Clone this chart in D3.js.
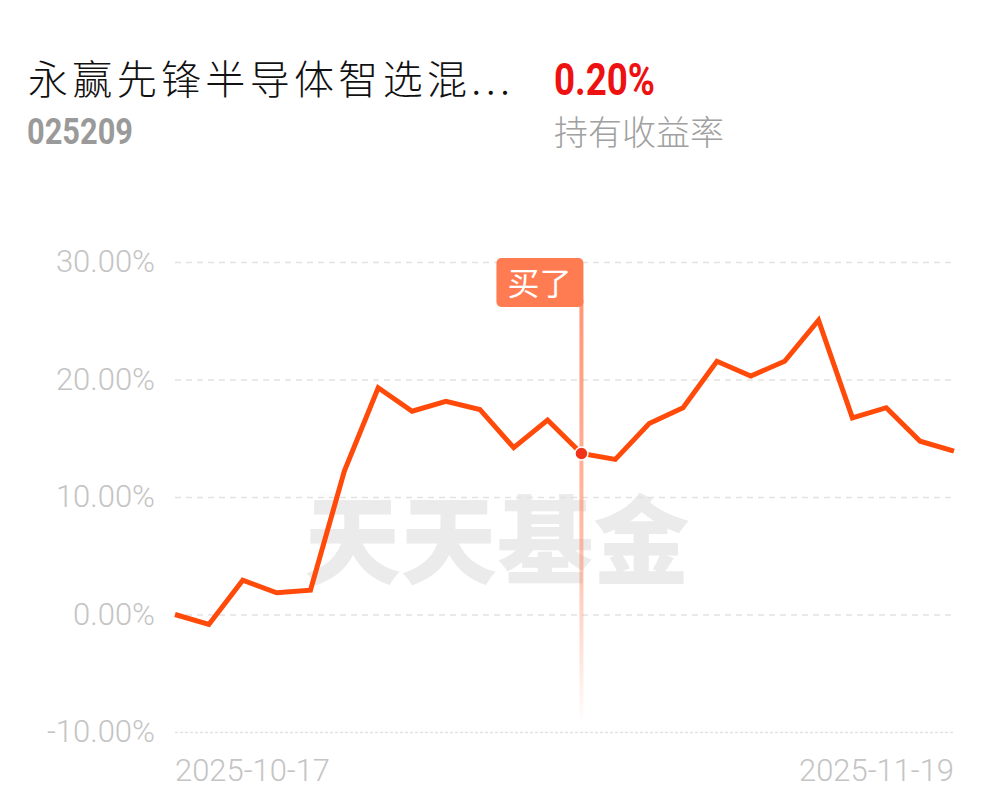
<!DOCTYPE html>
<html>
<head>
<meta charset="utf-8">
<script src="https://cdn.jsdelivr.net/npm/d3@7"></script>
<style>
  body { margin: 0; background: #fff; }
  svg { display: block; font-family: Roboto, "Noto Sans CJK SC", sans-serif; }
</style>
</head>
<body>
<svg width="997" height="802"></svg>
<script>
const fundName = '永赢先锋半导体智选混...';
const fundCode = '025209';
const holdReturn = '0.20%';
const holdLabel = '持有收益率';

const dates = ['2025-10-17', '2025-10-20', '2025-10-21', '2025-10-22', '2025-10-23', '2025-10-24',
    '2025-10-27', '2025-10-28', '2025-10-29', '2025-10-30', '2025-10-31', '2025-11-03',
    '2025-11-04', '2025-11-05', '2025-11-06', '2025-11-07', '2025-11-10', '2025-11-11',
    '2025-11-12', '2025-11-13', '2025-11-14', '2025-11-17', '2025-11-18', '2025-11-19'];
const values = [0.0, -0.85, 2.92, 1.85, 2.07, 12.2, 19.3, 17.3, 18.15, 17.45, 14.2, 16.55,
    13.7, 13.2, 16.25, 17.6, 21.55, 20.3, 21.55, 25.05, 16.74, 17.6, 14.75, 13.9];
const yTicks = [-10, 0, 10, 20, 30];
const xLabels = ['2025-10-17', '2025-11-19'];
const buyDate = '2025-11-04';
const buyText = '买了';

function Start(){
    const svg = d3.select('svg');
    const left = 175, right = 955, top = 262, bottom = 732;

    const x = d3.scalePoint().domain(dates).range([left, 954]);
    const y = d3.scaleLinear().domain([-10, 30]).range([bottom, top]);

    // header
    svg.append('text')
        .attr('x', 28).attr('y', 94)
        .attr('font-family', '"Noto Sans CJK SC", sans-serif')
        .attr('font-size', 40).attr('font-weight', 300)
        .attr('fill', '#111')
        .attr('textLength', 482).attr('lengthAdjust', 'spacing')
        .text(fundName);
    svg.append('text')
        .attr('x', 27).attr('y', 144)
        .attr('font-size', 36).attr('font-weight', 'bold')
        .attr('fill', '#9a9a9a')
        .attr('textLength', 106).attr('lengthAdjust', 'spacingAndGlyphs')
        .text(fundCode);
    svg.append('text')
        .attr('x', 554).attr('y', 95)
        .attr('font-size', 45).attr('font-weight', 'bold')
        .attr('fill', '#ee1111')
        .attr('textLength', 101).attr('lengthAdjust', 'spacingAndGlyphs')
        .text(holdReturn);
    svg.append('text')
        .attr('x', 554).attr('y', 145)
        .attr('font-family', '"Noto Sans CJK SC", sans-serif')
        .attr('font-size', 34).attr('font-weight', 300)
        .attr('fill', '#a0a0a0')
        .text(holdLabel);

    // watermark
    svg.append('text')
        .attr('x', 497).attr('y', 576)
        .attr('text-anchor', 'middle')
        .attr('font-family', '"Noto Sans CJK SC", sans-serif')
        .attr('font-size', 96).attr('font-weight', 900)
        .attr('fill', '#ebebeb')
        .attr('textLength', 385).attr('lengthAdjust', 'spacingAndGlyphs')
        .text('天天基金');

    // grid
    const grid = svg.append('g')
        .attr('transform', `translate(${left},0)`)
        .call(d3.axisRight(y).tickValues(yTicks).tickSize(right - left).tickFormat(''));
    grid.select('.domain').remove();
    grid.selectAll('line')
        .attr('stroke', '#e2e2e2')
        .attr('stroke-width', 1.5)
        .attr('stroke-dasharray', d => d === -10 ? '3,2' : '6,5');

    // y labels
    const yAxis = svg.append('g')
        .attr('transform', `translate(${left},0)`)
        .call(d3.axisLeft(y).tickValues(yTicks).tickSize(0).tickPadding(20)
            .tickFormat(d => d.toFixed(2) + '%'));
    yAxis.select('.domain').remove();
    yAxis.selectAll('text')
        .attr('font-family', 'Roboto, sans-serif')
        .attr('font-size', 31).attr('font-weight', 300)
        .attr('fill', '#c4c4c4');

    // x labels
    svg.selectAll('.xlab')
        .data(xLabels)
        .enter().append('text')
        .attr('class', 'xlab')
        .attr('x', d => x(d))
        .attr('y', 781)
        .attr('text-anchor', (d, i) => i === 0 ? 'start' : 'end')
        .attr('font-size', 31).attr('font-weight', 300)
        .attr('fill', '#c4c4c4')
        .attr('textLength', 155).attr('lengthAdjust', 'spacingAndGlyphs')
        .text(d => d);

    // buy marker line
    const defs = svg.append('defs');
    const grad = defs.append('linearGradient')
        .attr('id', 'buyfade')
        .attr('x1', 0).attr('y1', 0).attr('x2', 0).attr('y2', 1);
    grad.append('stop').attr('offset', '0%').attr('stop-color', '#ff8a63').attr('stop-opacity', 0.9);
    grad.append('stop').attr('offset', '60%').attr('stop-color', '#ff8a63').attr('stop-opacity', 0.55);
    grad.append('stop').attr('offset', '100%').attr('stop-color', '#ff8a63').attr('stop-opacity', 0);

    const bx = x(buyDate);
    svg.append('rect')
        .attr('x', bx - 2).attr('y', 300)
        .attr('width', 4).attr('height', 425)
        .attr('fill', 'url(#buyfade)');

    const g = svg.append('g')
        .attr('transform', `translate(${bx},0)`);
    g.append('rect')
        .attr('x', -85).attr('y', 258)
        .attr('width', 87).attr('height', 49)
        .attr('rx', 5)
        .attr('fill', '#ff7c52');
    g.append('text')
        .attr('x', -42).attr('y', 295)
        .attr('text-anchor', 'middle')
        .attr('font-family', '"Noto Sans CJK SC", sans-serif')
        .attr('font-size', 32)
        .attr('fill', '#fff')
        .text(buyText);

    // line
    const line = d3.line()
        .x((d, i) => x(dates[i]))
        .y(d => y(d));
    svg.append('path')
        .attr('d', line(values))
        .attr('fill', 'none')
        .attr('stroke', '#ff4a0a')
        .attr('stroke-width', 5)
        .attr('stroke-linejoin', 'miter');

    // buy point
    svg.append('circle')
        .attr('cx', bx)
        .attr('cy', y(values[dates.indexOf(buyDate)]))
        .attr('r', 6.5)
        .attr('fill', '#f0321a')
        .attr('stroke', '#fff')
        .attr('stroke-width', 1.5);
}
Start();
</script>
</body>
</html>
